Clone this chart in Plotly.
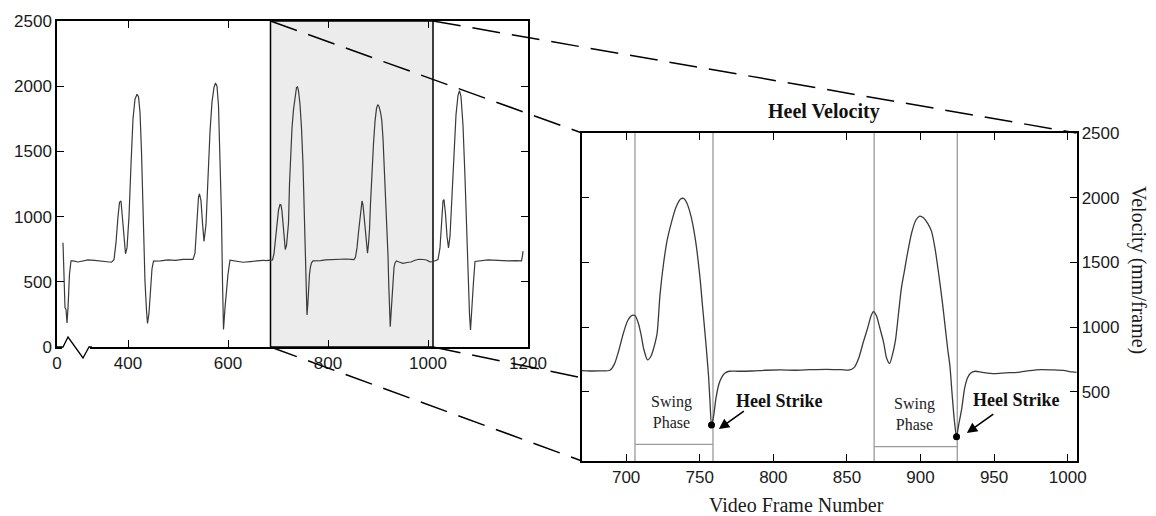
import plotly.graph_objects as go

W, H = 1156, 516

# Heel velocity (frame number -> mm/frame)
frames = [
    270, 272, 274, 276, 278, 280, 283, 286, 290, 300, 310, 320, 333, 345, 358, 367,
    372, 376, 380, 383, 386, 389, 392, 395, 398, 402, 406, 410, 414, 418, 421, 424,
    427, 430, 434, 437, 439, 442, 445, 448, 451, 465, 480, 495, 510, 522, 530, 534,
    538, 541, 543, 546, 549, 552, 556, 560, 564, 568, 572, 575, 578, 581, 584, 587,
    589, 591, 594, 597, 600, 604, 615, 630, 645, 660,
    670, 676, 682, 689, 692, 695, 698, 701, 704, 706, 708, 710, 712, 714.5, 717, 719,
    721, 723, 725.5, 728, 731, 734, 737, 739, 741, 744, 747, 750, 752, 754, 756, 757,
    758, 759.5, 761, 763, 765, 767, 770, 776, 785, 795, 805, 815, 825, 836, 846, 852,
    855, 858, 861, 864, 866.5, 868, 870, 872, 875, 877, 879, 881, 883, 885, 887, 889,
    891, 894, 897, 899.5, 902, 905, 907.5, 910, 912.5, 915, 917, 918.5, 920, 921.5, 923,
    924.5, 926, 928, 930, 932, 934, 937, 942, 950, 958, 966, 974, 982, 990, 997, 1003,
    1006, 1012, 1020, 1024, 1027, 1030, 1032, 1035, 1038, 1041, 1044, 1048, 1052, 1056,
    1060, 1063, 1066, 1070, 1074, 1078, 1081, 1083, 1085, 1088, 1091, 1094, 1105, 1120,
    1140, 1160, 1175, 1187, 1189, 1190,
]
velocity = [
    800, 560, 300, 290, 185, 300, 560, 660, 660, 652, 660, 668, 665, 660, 650, 650,
    670, 800, 1000, 1110, 1120, 1000, 850, 715, 760, 1000, 1400, 1750, 1900, 1938, 1920, 1800,
    1500, 1000, 500, 280, 180, 260, 420, 600, 658, 660, 668, 665, 672, 670, 672, 720,
    950, 1150, 1175, 1120, 950, 810, 940, 1300, 1650, 1880, 1990, 2025, 2000, 1850, 1500, 1000,
    500, 135, 300, 450, 560, 665, 660, 650, 655, 662,
    665, 662, 663, 668, 715, 820, 950, 1050, 1092, 1090, 1040, 950, 830, 748, 780, 850,
    950, 1250, 1500, 1680, 1820, 1930, 1990, 1995, 1965, 1860, 1680, 1400, 1150, 900, 620, 420,
    245, 320, 450, 560, 615, 645, 660, 660, 662, 668, 670, 668, 672, 675, 672, 670,
    690, 760, 880, 990, 1090, 1120, 1090, 1010, 880, 760, 720, 790, 900, 1100, 1300, 1430,
    1560, 1730, 1830, 1858, 1845, 1800, 1740, 1600, 1400, 1180, 980, 830, 700, 480, 280,
    155, 250, 370, 530, 610, 645, 660, 652, 642, 648, 652, 665, 673, 671, 667, 655,
    652, 658, 670, 760, 950, 1120, 1130, 1020, 850, 760, 850, 1150, 1500, 1780,
    1930, 1965, 1920, 1700, 1300, 800, 450, 250, 131, 280, 500, 656, 660, 668,
    665, 660, 662, 660, 700, 735,
]

# Frame window that is enlarged in the right-hand panel
zoom_window = [685, 1010]

# Swing phases and heel strikes inside the enlarged window
swing_start = [706, 868.5]
swing_end = [759, 925]
swing_bar = [96, 78]
strike_frame = [758, 924.5]
strike_vel = [245, 155]

# Axis ticks
left_xticks = [258, 400, 600, 800, 1000, 1200]
left_xticktext = ["0", "400", "600", "800", "1000", "1200"]
left_yticks = [0, 500, 1000, 1500, 2000, 2500]
right_xticks = [700, 750, 800, 850, 900, 950, 1000]
right_yticks = [500, 1000, 1500, 2000, 2500]

# Panel geometry (pixels) and ranges
L_x_px, L_y_px = (57, 528), (21, 347)
R_x_px, R_y_px = (582, 1076.5), (133, 461)
L_xrange, L_yrange = [258, 1200], [0, 2500]
R_xrange, R_yrange = [670, 1006], [-33, 2500]


def px(x):
    return x / W


def py(y):
    return 1 - y / H


def to_paper(x, y, xpx, ypx, xr, yr):
    fx = (x - xr[0]) / (xr[1] - xr[0])
    fy = (y - yr[0]) / (yr[1] - yr[0])
    X = xpx[0] + fx * (xpx[1] - xpx[0])
    Y = ypx[1] - fy * (ypx[1] - ypx[0])
    return px(X), py(Y)


def left_paper(x, y):
    return to_paper(x, y, L_x_px, L_y_px, L_xrange, L_yrange)


def right_paper(x, y):
    return to_paper(x, y, R_x_px, R_y_px, R_xrange, R_yrange)


SANS = "Liberation Sans, Arial, sans-serif"
SERIF = "Liberation Serif, Times New Roman, serif"
INK = "#1a1a1a"
CURVE = "#3a3a3a"

fig = go.Figure()

fig.add_trace(go.Scatter(
    x=frames, y=velocity, mode="lines", xaxis="x", yaxis="y",
    line=dict(color=CURVE, width=1.2), hoverinfo="skip", showlegend=False,
))
fig.add_trace(go.Scatter(
    x=frames, y=velocity, mode="lines", xaxis="x2", yaxis="y2",
    line=dict(color=CURVE, width=1.3, shape="spline", smoothing=0.7),
    hoverinfo="skip", showlegend=False,
))
fig.add_trace(go.Scatter(
    x=strike_frame, y=strike_vel, mode="markers", xaxis="x2", yaxis="y2",
    marker=dict(color="black", size=7), hoverinfo="skip", showlegend=False,
))

axis_style = dict(
    showline=True, linecolor="black", linewidth=1.5, mirror="ticks",
    ticks="inside", ticklen=7, tickwidth=1.2, tickcolor="black",
    showgrid=False, zeroline=False, fixedrange=True, automargin=False,
    tickfont=dict(family=SANS, size=17, color=INK),
)

fig.update_layout(
    width=W, height=H, autosize=False,
    margin=dict(l=0, r=0, t=0, b=0, autoexpand=False),
    paper_bgcolor="white", plot_bgcolor="white",
    showlegend=False,
    xaxis=dict(axis_style, domain=[px(L_x_px[0]), px(L_x_px[1])], range=L_xrange,
               tickvals=left_xticks, ticktext=left_xticktext, anchor="y"),
    yaxis=dict(axis_style, domain=[py(L_y_px[1]), py(L_y_px[0])], range=L_yrange,
               tickvals=left_yticks, anchor="x"),
    xaxis2=dict(axis_style, domain=[px(R_x_px[0]), px(R_x_px[1])], range=R_xrange,
                tickvals=right_xticks, anchor="y2"),
    yaxis2=dict(axis_style, domain=[py(R_y_px[1]), py(R_y_px[0])], range=R_yrange,
                tickvals=right_yticks, side="right", anchor="x2"),
)

shapes = []

# shaded window on the overview panel
shapes.append(dict(type="rect", xref="x", yref="y", x0=zoom_window[0], x1=zoom_window[1],
                   y0=L_yrange[0], y1=L_yrange[1], fillcolor="#ececec",
                   line=dict(color="black", width=1.5), layer="below"))

# axis break on the overview x axis
shapes.append(dict(type="rect", xref="paper", yref="paper", x0=px(62), x1=px(90),
                   y0=py(350), y1=py(344), fillcolor="white", line=dict(width=0), layer="above"))
zig = [(57, 347), (63, 347), (68, 337), (83, 358), (89, 347), (92, 347)]
path = "M " + " L ".join(f"{px(a):.5f},{py(b):.5f}" for a, b in zig)
shapes.append(dict(type="path", xref="paper", yref="paper", path=path,
                   line=dict(color="black", width=1.3), layer="above"))

# swing phase boundaries and bars
for s, e, b in zip(swing_start, swing_end, swing_bar):
    for xv in (s, e):
        shapes.append(dict(type="line", xref="x2", yref="y2 domain", x0=xv, x1=xv, y0=0, y1=1,
                           line=dict(color="#9a9a9a", width=1.3), layer="below"))
    shapes.append(dict(type="line", xref="x2", yref="y2", x0=s, x1=e, y0=b, y1=b,
                       line=dict(color="#9a9a9a", width=1.3), layer="below"))

# dashed connectors from the shaded window to the enlarged panel
connectors = [
    (left_paper(zoom_window[0], 2500), right_paper(R_xrange[0], 2500)),
    (left_paper(zoom_window[1], 2500), right_paper(R_xrange[1], 2500)),
    (left_paper(zoom_window[0], 0), right_paper(R_xrange[0], R_yrange[0])),
    (left_paper(zoom_window[1], 0), right_paper(R_xrange[0], 610)),
]
for (x0, y0), (x1, y1) in connectors:
    shapes.append(dict(type="line", xref="paper", yref="paper", x0=x0, y0=y0, x1=x1, y1=y1,
                       line=dict(color="black", width=1.5, dash="28px,12px"), layer="above"))

fig.update_layout(shapes=shapes)

centered = dict(xanchor="center", yanchor="middle", showarrow=False)
annotations = [
    dict(centered, text="<b>Heel Velocity</b>", xref="paper", yref="paper", x=px(824), y=py(112),
         font=dict(family=SERIF, size=20, color="#111")),
    dict(centered, text="Video Frame Number", xref="paper", yref="paper", x=px(796), y=py(505),
         font=dict(family=SERIF, size=20, color=INK)),
    dict(centered, text="Velocity (mm/frame)", xref="paper", yref="paper", x=px(1139), y=py(270),
         textangle=90, font=dict(family=SERIF, size=20, color=INK)),
]
swing_label_pos = [(731, 344), (896, 330)]
strike_label_pos = [(804, 430), (965, 438)]
arrow_tail = [(781, 361), (950.5, 338)]
arrow_head = [(763, 214), (931.5, 183)]
for (sx, sy), (hx, hy), (tx, ty), (ex, ey) in zip(swing_label_pos, strike_label_pos, arrow_tail, arrow_head):
    annotations.append(dict(centered, text="Swing<br>Phase", xref="x2", yref="y2", x=sx, y=sy,
                            font=dict(family=SERIF, size=16, color="#222")))
    annotations.append(dict(centered, text="<b>Heel Strike</b>", xref="x2", yref="y2", x=hx, y=hy,
                            font=dict(family=SERIF, size=18, color="#111")))
    annotations.append(dict(text="", xref="x2", yref="y2", x=ex, y=ey,
                            axref="x2", ayref="y2", ax=tx, ay=ty, showarrow=True,
                            arrowhead=2, arrowsize=1.3, arrowwidth=1.6, arrowcolor="black",
                            standoff=0))
fig.update_layout(annotations=annotations)

fig.write_html("out.html")
